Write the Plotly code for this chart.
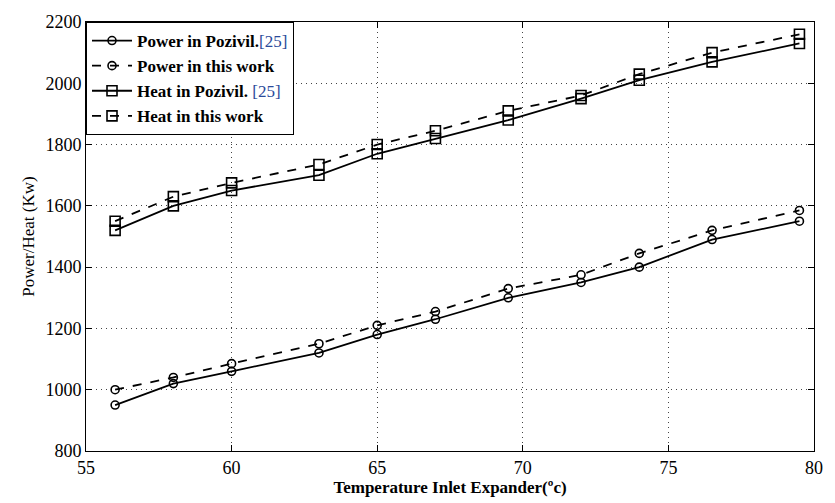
import plotly.graph_objects as go

temp = [56, 58, 60, 63, 65, 67, 69.5, 72, 74, 76.5, 79.5]
power_pozivil = [950, 1020, 1060, 1120, 1180, 1230, 1300, 1350, 1400, 1490, 1550]
power_this = [1000, 1040, 1085, 1150, 1210, 1255, 1330, 1375, 1445, 1520, 1585]
heat_pozivil = [1520, 1600, 1650, 1700, 1770, 1820, 1880, 1950, 2010, 2070, 2130]
heat_this = [1550, 1630, 1675, 1735, 1800, 1845, 1910, 1960, 2030, 2100, 2160]

ref = "<span style='color:#2a4a9a'>[25]</span>"
series = [
    ("<b>Power in Pozivil.</b>" + ref, power_pozivil, "solid", "circle-open", 8),
    ("<b>Power in this work</b>", power_this, "dash", "circle-open", 8),
    ("<b>Heat in Pozivil. </b>" + ref, heat_pozivil, "solid", "square-open", 10),
    ("<b>Heat in this work</b>", heat_this, "dash", "square-open", 10),
]

fig = go.Figure()
for name, vals, dash, sym, sz in series:
    fig.add_trace(go.Scatter(
        x=temp, y=vals, name=name, mode="lines+markers",
        line=dict(color="black", width=1.8, dash=dash),
        marker=dict(symbol=sym, size=sz, color="black", line=dict(width=1.6, color="black")),
    ))

axis_common = dict(
    showline=True, linecolor="black", linewidth=1, mirror="ticks",
    ticks="inside", ticklen=6, tickcolor="black",
    showgrid=True, gridcolor="#444444", griddash="1px,4px", gridwidth=1,
    zeroline=False, tickfont=dict(family="Liberation Serif", size=18, color="black"),
)

fig.update_layout(
    width=835, height=503,
    margin=dict(l=86, r=12, t=12, b=52),
    paper_bgcolor="white", plot_bgcolor="white",
    font=dict(family="Liberation Serif", color="black"),
    xaxis=dict(range=[55, 80], dtick=5,
               title=dict(text="<b>Temperature Inlet Expander(ºc)</b>", font=dict(size=17), standoff=2),
               **axis_common),
    yaxis=dict(range=[800, 2200], dtick=200,
               title=dict(text="Power/Heat (Kw)", font=dict(size=17), standoff=6),
               **axis_common),
    legend=dict(x=0, y=1, xanchor="left", yanchor="top",
                bordercolor="black", borderwidth=1, bgcolor="white",
                font=dict(family="Liberation Serif", size=17, color="black"),
                tracegroupgap=0, itemwidth=40),
    showlegend=True,
)

fig.write_html("out.html")
